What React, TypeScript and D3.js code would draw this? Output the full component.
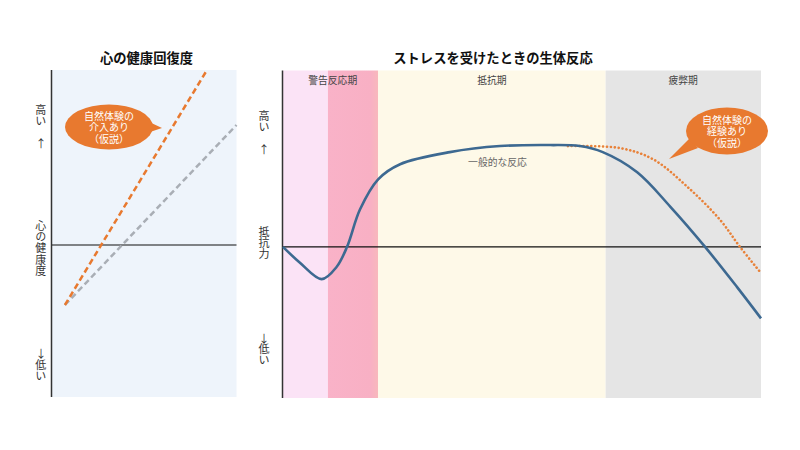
import React from 'react';
import * as d3 from 'd3';

// left panel: recovery lines (x 0-10, y = mental health)
const recoveryNatureX = [0.7, 8.4];
const recoveryNatureY = [-6.0, 17.5];
const recoveryBaseX = [0.7, 10];
const recoveryBaseY = [-6.0, 12.0];

// right panel: stress response (x 0-100 = time, y = resistance)
const stressX = [0, 3.6, 8.1, 11.2, 13.4, 16.1, 19.9, 24.5, 34.9, 45.4, 55.9, 62.1, 66.9, 74.1, 81.0, 88.3, 95.0, 100];
const stressY = [0, -1.6, -3.2, -2.0, 0, 3.7, 6.7, 8.2, 9.4, 10.0, 10.1, 10.0, 9.4, 7.4, 4.0, 0, -4.0, -7.1];
const natureX = [59.6, 70.5, 77.4, 84.5, 91.4, 95.6, 100];
const natureY = [10.0, 9.8, 8.7, 6.0, 2.7, 0, -2.6];

// stage bands
const phaseNames = ['警告反応期', '', '抵抗期', '疲弊期'];
const phaseStart = [0, 9.4, 19.9, 67.5];
const phaseEnd = [9.4, 19.9, 67.5, 100];
const phaseColors = ['#fbe3f6', 'url(#alarmGrad)', '#fef9e8', '#e5e5e5'];
const phaseLabelX = [10.4, null, 43.7, 83.7];

const FONT = '"Noto Sans CJK JP", "Noto Sans", sans-serif';
const ORANGE = '#e8792f';
const BLUE = '#3d6991';

// vertical label, y = top of first glyph
const VLabel = ({ x, y, text, spacing = 0 }: { x: number; y: number; text: string; spacing?: number }) => (
  <text x={x} y={y} fontSize={11} fill="#333" fontFamily={FONT}
    style={{ writingMode: 'vertical-rl', textOrientation: 'upright', letterSpacing: spacing }}>{text}</text>
);

// arrow glyph kept horizontal (upright vertical mode picks an emoji face)
const Arrow = ({ x, y, ch }: { x: number; y: number; ch: string }) => (
  <text x={Math.round(x)} y={y} textAnchor="middle" dominantBaseline="central" fontSize={11} fill="#333"
    fontFamily={FONT}>{ch}</text>
);

const Bubble = ({ cx, cy, rx, ry, tip, base, lines }:
  { cx: number; cy: number; rx: number; ry: number; tip: [number, number]; base: [number, number][]; lines: string[] }) => (
  <g>
    <path d={`M${base[0][0]},${base[0][1]} L${tip[0]},${tip[1]} L${base[1][0]},${base[1][1]} Z`} fill={ORANGE} />
    <ellipse cx={cx} cy={cy} rx={rx} ry={ry} fill={ORANGE} />
    <foreignObject x={cx - rx} y={cy - 17.5} width={rx * 2} height={36}>
      <div style={{ fontFamily: FONT, fontSize: 10, lineHeight: '11.6px', color: '#fff', textAlign: 'center', whiteSpace: 'pre-line' }}>
        {lines.join('\n')}
      </div>
    </foreignObject>
  </g>
);

export default function App() {
  // left panel scales
  const lx = d3.scaleLinear().domain([0, 10]).range([52, 236.5]);
  const ly = d3.scaleLinear().domain([-15.2, 17.5]).range([397, 70]);
  const straight = (xs: number[], ys: number[]) =>
    d3.line<number>().x(d => lx(d)).y((d, i) => ly(ys[i]))(xs) || '';

  // right panel scales
  const rx = d3.scaleLinear().domain([0, 100]).range([283, 761]);
  const ry = d3.scaleLinear().domain([-15, 17.5]).range([398, 70.5]);
  const curve = (xs: number[], ys: number[]) =>
    d3.line<number>().x(d => rx(d)).y((d, i) => ry(ys[i])).curve(d3.curveCatmullRom.alpha(0.5))(xs) || '';

  return (
    <svg width={800} height={450} style={{ position: 'absolute', left: 0, top: 0, background: '#fff' }}>
      <defs>
        <linearGradient id="alarmGrad" x1="0" x2="1" y1="0" y2="0">
          <stop offset="0" stopColor="#f9b2c8" />
          <stop offset="0.85" stopColor="#f8b0c4" />
          <stop offset="1" stopColor="#f8b8bc" />
        </linearGradient>
      </defs>

      {/* left panel */}
      <text x={146.5} y={57} textAnchor="middle" dominantBaseline="central" fontSize={13.3}
        fontWeight="bold" fill="#111" fontFamily={FONT}>心の健康回復度</text>
      <rect x={lx(0)} y={ly(17.5)} width={lx(10) - lx(0)} height={ly(-15.2) - ly(17.5)} fill="#eef4fb" />
      <line x1={lx(0)} x2={lx(10)} y1={ly(0)} y2={ly(0)} stroke="#111" strokeWidth={1.2} />
      <line x1={lx(0) - 0.5} x2={lx(0) - 0.5} y1={ly(17.5)} y2={ly(-15.2)} stroke="#333" strokeWidth={1.5} />
      <path d={straight(recoveryBaseX, recoveryBaseY)} fill="none" stroke="#a9aeb5" strokeWidth={2.5} strokeDasharray="6 3.5" />
      <path d={straight(recoveryNatureX, recoveryNatureY)} fill="none" stroke={ORANGE} strokeWidth={2.5} strokeDasharray="6 3.5" />
      <Bubble cx={109} cy={127} rx={44} ry={22.5} tip={[162, 128]} base={[[145, 120], [147, 133]]}
        lines={['自然体験の', '介入あり', '（仮説）']} />
      <VLabel x={40.7} y={104} text="高い" />
      <Arrow x={41} y={143} ch="↑" />
      <VLabel x={40.7} y={220} text="心の健康度" spacing={0.4} />
      <Arrow x={41} y={353} ch="↓" />
      <VLabel x={40.7} y={359.5} text="低い" spacing={0.3} />

      {/* right panel */}
      <text x={493} y={57} textAnchor="middle" dominantBaseline="central" fontSize={13.3}
        fontWeight="bold" fill="#111" fontFamily={FONT}>ストレスを受けたときの生体反応</text>
      {phaseStart.map((s, i) => (
        <rect key={i} x={rx(s)} y={ry(17.5)} width={rx(phaseEnd[i]) - rx(s)} height={ry(-15) - ry(17.5)} fill={phaseColors[i]} />
      ))}
      {phaseNames.map((n, i) => n && (
        <text key={i} x={rx(phaseLabelX[i] as number)} y={79.5} textAnchor="middle" dominantBaseline="central"
          fontSize={9.8} fill="#444" fontFamily={FONT}>{n}</text>
      ))}
      <line x1={rx(0)} x2={rx(100)} y1={ry(0)} y2={ry(0)} stroke="#111" strokeWidth={1.2} />
      <line x1={rx(0) - 0.5} x2={rx(0) - 0.5} y1={ry(17.5)} y2={ry(-15)} stroke="#333" strokeWidth={1.5} />
      <path d={curve(natureX, natureY)} fill="none" stroke="#e8823a" strokeWidth={2.6} strokeDasharray="0.1 3.8" strokeLinecap="round" />
      <path d={curve(stressX, stressY)} fill="none" stroke={BLUE} strokeWidth={2.6} />
      <text x={497.5} y={161.5} textAnchor="middle" dominantBaseline="central" fontSize={9.8}
        fill="#666" fontFamily={FONT}>一般的な反応</text>
      <Bubble cx={727} cy={131} rx={41} ry={23.5} tip={[669, 159]} base={[[690, 138], [698, 148]]}
        lines={['自然体験の', '経験あり', '（仮説）']} />
      <VLabel x={264} y={110} text="高い" />
      <Arrow x={264} y={149} ch="↑" />
      <VLabel x={264} y={226.5} text="抵抗力" />
      <Arrow x={264} y={337.5} ch="↓" />
      <VLabel x={264} y={343.5} text="低い" />
    </svg>
  );
}
